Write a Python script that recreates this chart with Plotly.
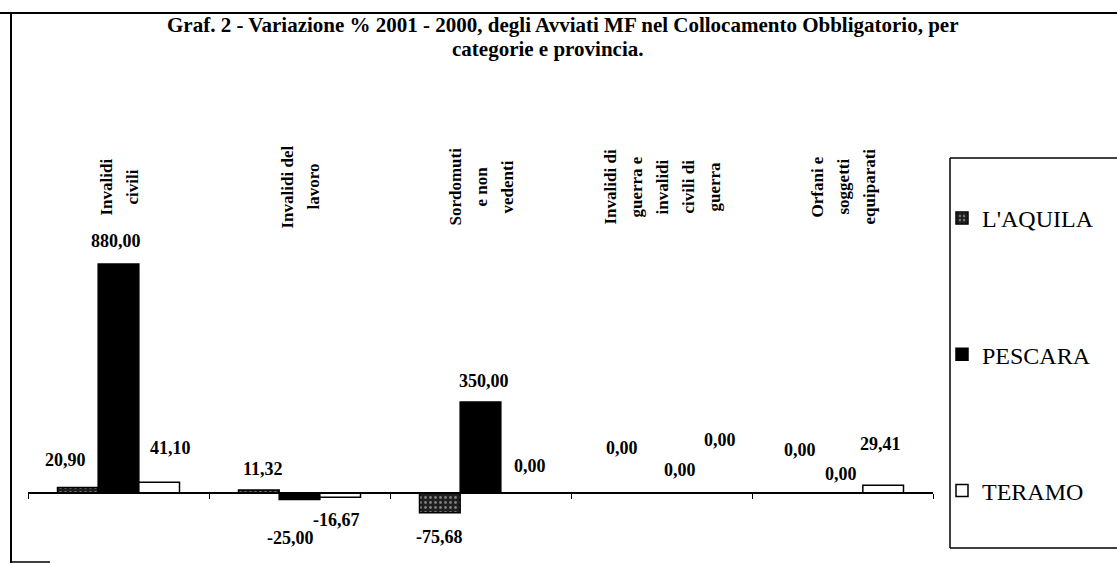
import plotly.graph_objects as go

# ---------------- data ----------------
CATEGORIES = [
    "Invalidi<br>civili",
    "Invalidi del<br>lavoro",
    "Sordomuti<br>e non<br>vedenti",
    "Invalidi di<br>guerra e<br>invalidi<br>civili di<br>guerra",
    "Orfani e<br>soggetti<br>equiparati",
]
SERIES = ["L'AQUILA", "PESCARA", "TERAMO"]
LAQUILA = [20.90, 11.32, -75.68, 0.00, 0.00]
PESCARA = [880.00, -25.00, 350.00, 0.00, 0.00]
TERAMO = [41.10, -16.67, 0.00, 0.00, 29.41]
VALUES = [LAQUILA, PESCARA, TERAMO]

TITLE_1 = "Graf. 2 - Variazione % 2001 - 2000, degli Avviati MF nel Collocamento Obbligatorio, per"
TITLE_2 = "categorie e provincia."

# ---------------- style / layout constants ----------------
W, H = 1117, 563
ML, MR, MT, MB = 28, 184, 140, 23
PLOT_W = W - ML - MR
PLOT_H = H - MT - MB
Y_RANGE = [-180.6, 1356.6]
BARGAP = 0.326
SERIF = "Liberation Serif, Times New Roman, serif"

# label offsets (px) relative to bar centre / bar end: (dx, dy), per series per category
LABEL_OFFSETS = [
    [(-12, 28), (4, 21), (0, -24), (1, 45), (-2, 43)],
    [(-3, 23), (-9, -38), (3, 21), (18, 23), (-2, 19)],
    [(11, 34), (-4, -23), (9, 27), (18, 53), (-3, 41)],
]
FILLS = ["#1e1e1e", "#000000", "#ffffff"]


def px_x(p):
    return (p - ML) / PLOT_W


def px_y(p):
    return (H - MB - p) / PLOT_H


fig = go.Figure()
for i, (name, vals) in enumerate(zip(SERIES, VALUES)):
    marker = dict(color=FILLS[i], line=dict(color="black", width=1.5))
    if i == 0:
        marker["pattern"] = dict(shape=".", fgcolor="#dddddd", size=5, solidity=0.25)
    fig.add_trace(go.Bar(
        x=CATEGORIES, y=vals, name=name, marker=marker,
        legendgroup=name, hoverinfo="skip",
    ))

# data labels
cat_px = PLOT_W / len(CATEGORIES)
bar_px = cat_px * (1 - BARGAP) / len(SERIES)
annotations = []
for i, vals in enumerate(VALUES):
    for j, v in enumerate(vals):
        dx, dy = LABEL_OFFSETS[i][j]
        annotations.append(dict(
            x=CATEGORIES[j], y=v, xref="x", yref="y",
            xshift=(i - 1) * bar_px + dx, yshift=dy,
            text="<b>" + f"{v:.2f}".replace(".", ",") + "</b>", showarrow=False,
            font=dict(family=SERIF, size=18, color="black"),
            xanchor="center", yanchor="middle",
        ))

# category labels (rotated, at the top)
LINE_SP = 26
for j, cat in enumerate(CATEGORIES):
    lines = cat.split("<br>")
    n = len(lines)
    for k, ln in enumerate(lines):
        annotations.append(dict(
            x=cat, xref="x", y=px_y(187), yref="paper",
            xshift=(k - (n - 1) / 2) * LINE_SP,
            text=f"<b>{ln}</b>", showarrow=False, textangle=-90,
            font=dict(family=SERIF, size=17, color="black"),
            xanchor="center", yanchor="middle",
        ))

# title
annotations.append(dict(x=px_x(563), y=px_y(25), xref="paper", yref="paper",
                        text=f"<b>{TITLE_1}</b>", showarrow=False,
                        font=dict(family=SERIF, size=21, color="black"),
                        xanchor="center", yanchor="middle"))
annotations.append(dict(x=px_x(547), y=px_y(49), xref="paper", yref="paper",
                        text=f"<b>{TITLE_2}</b>", showarrow=False,
                        font=dict(family=SERIF, size=21, color="black"),
                        xanchor="center", yanchor="middle"))

# frame + legend box
def pline(x0, y0, x1, y1, w):
    return dict(type="line", xref="paper", yref="paper",
                x0=px_x(x0), y0=px_y(y0), x1=px_x(x1), y1=px_y(y1),
                line=dict(color="black", width=w))

shapes = [
    pline(0, 13, W, 13, 2),
    pline(11, 13, 11, H, 2),
    pline(11, 562, 50, 562, 1.5),
    pline(950, 158, W + 5, 158, 1.5),
    pline(950, 158, 950, 548, 1.5),
    pline(950, 548, W + 5, 548, 1.5),
]

zero_pos = (0 - Y_RANGE[0]) / (Y_RANGE[1] - Y_RANGE[0])

fig.update_layout(
    width=W, height=H,
    margin=dict(l=ML, r=MR, t=MT, b=MB, pad=0),
    paper_bgcolor="white", plot_bgcolor="white",
    barmode="group", bargap=BARGAP, bargroupgap=0,
    showlegend=True,
    legend=dict(
        x=px_x(942), y=px_y(196), xanchor="left", yanchor="top",
        font=dict(family=SERIF, size=24, color="black"),
        traceorder="grouped", tracegroupgap=102,
        bgcolor="rgba(0,0,0,0)", borderwidth=0,
    ),
    xaxis=dict(
        type="category", anchor="free", position=zero_pos,
        showline=True, linecolor="black", linewidth=1.5,
        ticks="outside", tickson="boundaries", ticklen=5, tickcolor="black",
        showticklabels=False, showgrid=False, zeroline=False, fixedrange=True,
    ),
    yaxis=dict(range=Y_RANGE, visible=False, showgrid=False, zeroline=False,
               fixedrange=True),
    annotations=annotations,
    shapes=shapes,
    font=dict(family=SERIF, color="black"),
)

fig.write_html(
    "out.html",
    config={"displayModeBar": False},
    post_script="document.body.style.margin='0';document.body.style.overflow='hidden';",
)
